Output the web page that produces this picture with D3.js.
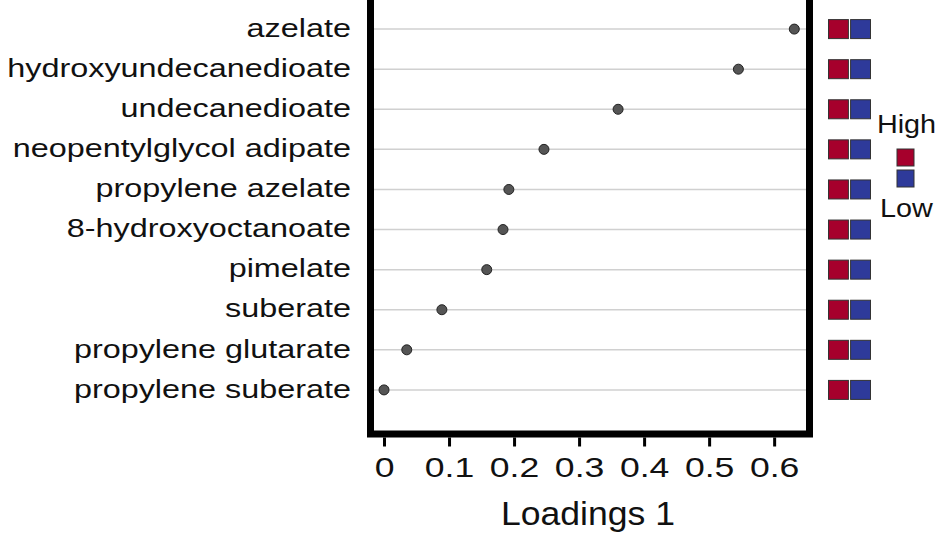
<!DOCTYPE html>
<html>
<head>
<meta charset="utf-8">
<script src="https://cdn.jsdelivr.net/npm/d3@7"></script>
<style>
  body { margin: 0; background: #fff; }
  svg { display: block; font-family: "Liberation Sans", Arial, sans-serif; }
  .grid line { stroke: #d0d0d0; stroke-width: 1.5; }
  .dot { fill: #555; stroke: #222; stroke-width: 1; }
  .axis path { display: none; }
  .axis line { stroke: #000; stroke-width: 3; }
  .axis text { font-size: 28px; fill: #111; }
  .ylabel { font-size: 25.7px; fill: #111; }
  .cell { stroke: #333; stroke-width: 1; }
</style>
</head>
<body>
<div id="chart"></div>
<script>
// compounds, top to bottom
const compounds = ["azelate", "hydroxyundecanedioate", "undecanedioate", "neopentylglycol adipate",
  "propylene azelate", "8-hydroxyoctanoate", "pimelate", "suberate",
  "propylene glutarate", "propylene suberate"];
const loadings = [0.631, 0.545, 0.360, 0.246, 0.192, 0.183, 0.158, 0.089, 0.035, 0.000];
const xTicks = [0, 0.1, 0.2, 0.3, 0.4, 0.5, 0.6];
const groups = ["High", "Low"];
const groupColors = ["#a6002c", "#2e3a9a"];

const W = 940, H = 535;
const frame = {left: 370.5, right: 809.5, top: -11, bottom: 434};

const svg = d3.select("#chart").append("svg")
  .attr("width", W).attr("height", H);

const x = d3.scaleLinear().domain([-0.0154, 0.649]).range([374, 806]);
const y = d3.scalePoint().domain(compounds).range([-11, 430]).padding(1);

// gridlines
svg.append("g").attr("class", "grid")
  .selectAll("line").data(compounds).enter().append("line")
  .attr("x1", x.range()[0]).attr("x2", x.range()[1])
  .attr("y1", d => y(d)).attr("y2", d => y(d));

// points
svg.append("g").selectAll("circle").data(compounds).enter().append("circle")
  .attr("class", "dot")
  .attr("cx", (d, i) => x(loadings[i]))
  .attr("cy", d => y(d))
  .attr("r", 5);

// frame
svg.append("rect")
  .attr("x", frame.left).attr("y", frame.top)
  .attr("width", frame.right - frame.left).attr("height", frame.bottom - frame.top)
  .attr("fill", "none").attr("stroke", "#000").attr("stroke-width", 7);

// x axis (the source text is stretched horizontally)
const xAxis = svg.append("g").attr("class", "axis")
  .attr("transform", "translate(0," + (frame.bottom + 3.5) + ")")
  .call(d3.axisBottom(x).tickValues(xTicks).tickSize(9).tickPadding(10).tickFormat(d3.format("")));
xAxis.selectAll("text")
  .attr("y", null).attr("dy", null)
  .attr("transform", "translate(0," + (477 - frame.bottom - 3.5) + ") scale(1.27,1)");

svg.append("text")
  .attr("transform", "translate(588,525) scale(1.095,1)")
  .attr("text-anchor", "middle")
  .style("font-size", "32.5px").style("fill", "#111")
  .text("Loadings 1");

// y labels
svg.append("g").selectAll("text").data(compounds).enter().append("text")
  .attr("class", "ylabel")
  .attr("transform", d => "translate(351," + (y(d) + 7.7) + ") scale(1.26,1)")
  .attr("text-anchor", "end")
  .text(d => d);

// heat cells
const cellX = d3.scaleBand().domain(groups).range([828.5, 870.5]).paddingInner(0.1);
const cells = [];
compounds.forEach(c => groups.forEach((g, j) => cells.push({c: c, g: g, j: j})));
svg.append("g").selectAll("rect").data(cells).enter().append("rect")
  .attr("class", "cell")
  .attr("x", d => cellX(d.g))
  .attr("y", d => y(d.c) - 9.5)
  .attr("width", cellX.bandwidth()).attr("height", 19)
  .attr("fill", d => groupColors[d.j]);

// legend
const leg = svg.append("g");
leg.append("text").attr("transform", "translate(906.5,133) scale(1.13,1)").attr("text-anchor", "middle")
  .style("font-size", "25.5px").style("fill", "#111").text(groups[0]);
leg.append("text").attr("transform", "translate(906.5,217) scale(1.13,1)").attr("text-anchor", "middle")
  .style("font-size", "25.5px").style("fill", "#111").text(groups[1]);
leg.selectAll("rect").data(groups).enter().append("rect")
  .attr("class", "cell")
  .attr("x", 897).attr("y", (d, i) => 149 + i * 21)
  .attr("width", 17).attr("height", 17)
  .attr("fill", (d, i) => groupColors[i]);
</script>
</body>
</html>
